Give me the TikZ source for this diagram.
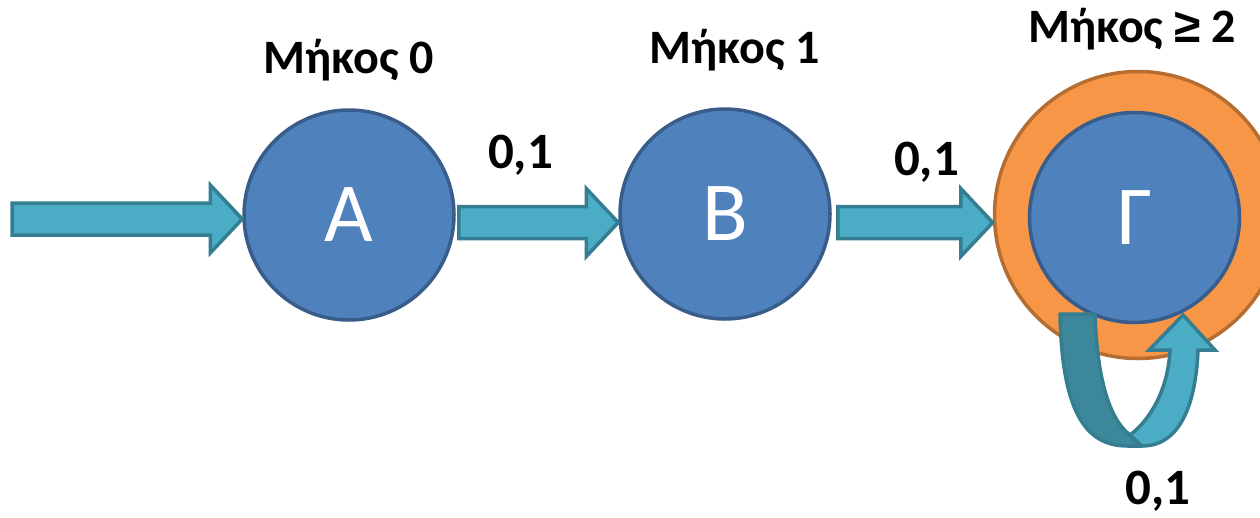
\documentclass[tikz,border=0pt]{standalone}
\usepackage{fontspec}
\setmainfont{Carlito}
\newfontfamily\symfont{Liberation Sans}
\usetikzlibrary{calc}
\definecolor{nodefill}{HTML}{4F81BD}
\definecolor{nodeline}{HTML}{385D8A}
\definecolor{ringfill}{HTML}{F79646}
\definecolor{ringline}{HTML}{B66D31}
\definecolor{arrfill}{HTML}{4BACC6}
\definecolor{arrline}{HTML}{357D91}
\definecolor{loopdark}{HTML}{3C889A}
\tikzset{
 statenode/.style={circle, fill=nodefill, draw=nodeline, line width=3.5pt, minimum size=210pt, inner sep=0pt, text=white, font=\fontsize{84}{84}\selectfont},
 ringnode/.style={circle, fill=ringfill, draw=ringline, line width=3.5pt, minimum size=287pt, inner sep=0pt},
 lbl/.style={font=\fontsize{48}{48}\selectfont\bfseries, anchor=base, inner sep=0pt},
 edgelbl/.style={font=\fontsize{51}{51}\selectfont\bfseries, anchor=base, inner sep=0pt},
 blockarrow/.style={fill=arrfill, draw=arrline, line width=3.5pt, line join=miter},
 loopback/.style={fill=loopdark, draw=arrline, line width=3.5pt, line join=round},
}
\newcommand\blockarr[2]{\path[blockarrow] let \p1=(#1), \p2=(#2) in (\x1,\y1+16pt) -- (\x2-32pt,\y1+16pt) -- (\x2-32pt,\y1+34pt) -- (\x2,\y1) -- (\x2-32pt,\y1-34pt) -- (\x2-32pt,\y1-16pt) -- (\x1,\y1-16pt) -- cycle;}
\begin{document}
\begin{tikzpicture}[x=1pt,y=-1pt]
\useasboundingbox (0,0) rectangle (1260,517);
% states
\node[statenode] (A) at (349,215) {A};
\node[statenode] (B) at (725,214) {B};
\node[ringnode] (R) at (1138,215) {};
\node[statenode] (C) at (1134.5,217.5) {Γ};
% labels
\node[lbl] (lA) at (348.5,73) {Μήκος 0};
\node[lbl] (lB) at (734.5,63) {Μήκος 1};
\node[lbl] (lC) at (1132,42) {Μήκος {\symfont\bfseries ≥} 2};
\node[edgelbl] (e1) at (520.5,168) {0,1};
\node[edgelbl] (e2) at (926.5,175) {0,1};
\node[edgelbl] (e3) at (1158,504) {0,1};
% block arrows
\coordinate (start) at (12,219);
\coordinate (ab) at ($(A.east)+(3,7.5)$);
\coordinate (bc) at ($(B.east)+(6,8.5)$);
\blockarr{start}{A.west}
\blockarr{ab}{B.west}
\blockarr{bc}{R.west}
% self loop
\path[loopback] (1060,314) .. controls (1062,420) and (1090,446) .. (1128,446) -- (1142,446) -- (1130,435) .. controls (1110,420) and (1097,380) .. (1095,314) -- cycle;
\path[blockarrow] (1130,435) -- (1142,446) .. controls (1182,446) and (1196,400) .. (1198,350) -- (1215,350) -- (1183,315) -- (1149,350) -- (1170,350) .. controls (1168,390) and (1150,420) .. (1130,435) -- cycle;
\end{tikzpicture}
\end{document}
